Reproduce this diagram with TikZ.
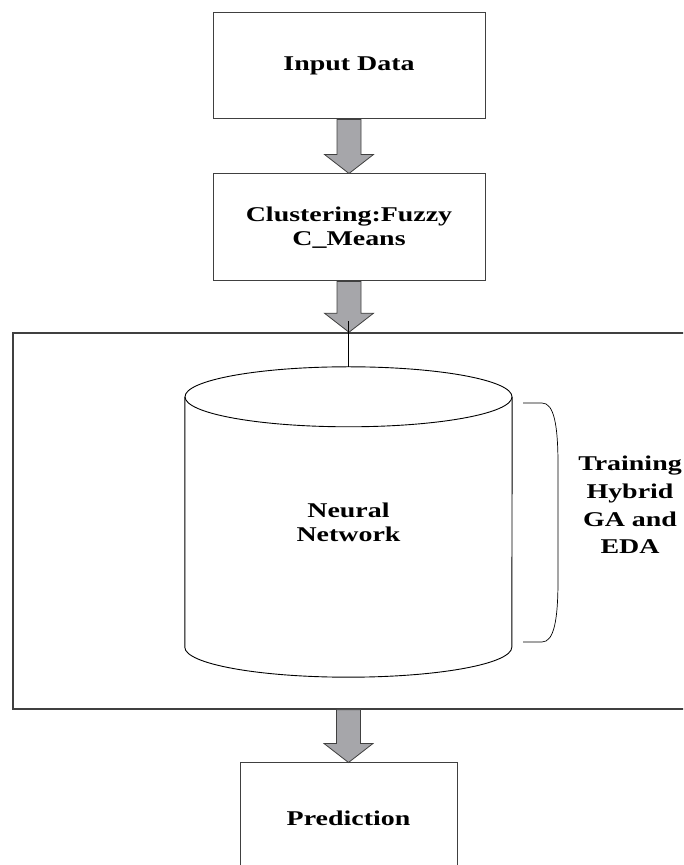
\documentclass[tikz,border=0pt]{standalone}
\usepackage{fontspec}
\setmainfont{Liberation Serif}[FakeStretch=1.33]
\usepackage{tikz}
\usetikzlibrary{positioning,calc}

\definecolor{arrowgray}{RGB}{166,166,170}
\definecolor{linegray}{RGB}{64,64,64}

% block arrow between two points, shaft taken from the first x
\newcommand{\blockarrow}[2]{%
  \draw[fatarrow] let \p1=(#1), \p2=(#2) in
    (\x1-12pt,\y1) -- (\x1-12pt,\y2+19pt) -- (\x1-24.5pt,\y2+19pt) -- (\x1,\y2)
    -- (\x1+24.5pt,\y2+19pt) -- (\x1+12pt,\y2+19pt) -- (\x1+12pt,\y1) -- cycle;}

\begin{document}
\begin{tikzpicture}[x=1pt, y=1pt,
    every node/.style={font=\fontsize{21}{24}\selectfont\bfseries, align=center},
    stepbox/.style={draw=linegray, line width=1pt, minimum width=272pt, minimum height=106pt},
    fatarrow/.style={draw=linegray, line width=0.8pt, fill=arrowgray},
    cyl/.style={draw=black, line width=0.9pt}]

    \useasboundingbox (0,0) rectangle (683,865);
    \clip (0,0) rectangle (683,865);

    \node[stepbox] (input) at (349,799) {Input Data};
    \node[stepbox, minimum height=107pt, below=54pt of input] (clust) {Clustering:Fuzzy\\C\_Means};
    \node[draw=linegray, line width=1.5pt, minimum width=687pt, minimum height=376pt] (train) at (356.5,344) {};
    \node[stepbox, minimum width=217pt, minimum height=110pt] (pred) at (348.5,47) {Prediction};

    % cylinder
    \node[minimum width=327pt, minimum height=310pt] (nn) at (348.5,343) {Neural\\Network};
    \draw[cyl] ([yshift=-30pt]nn.north west) -- ([yshift=30pt]nn.south west)
      arc[start angle=180, end angle=360, x radius=163.5pt, y radius=30pt]
      -- ([yshift=-30pt]nn.north east);
    \draw[cyl] ([yshift=-30pt]nn.north) ellipse[x radius=163.5pt, y radius=30pt];

    \node[font=\fontsize{21}{27.7}\selectfont\bfseries] (algo) at (630,360) {Training\\Hybrid\\GA and\\EDA};
    \draw[cyl, line width=0.7pt] (523,462) -- (542,462) .. controls (554,462) and (558,440) .. (558,400)
      -- (558,285) .. controls (558,245) and (554,223) .. (542,223) -- (523,223);

    \blockarrow{input.south}{clust.north}
    \blockarrow{clust.south}{clust.south |- train.north}
    \blockarrow{pred.north |- train.south}{pred.north}
    \draw[cyl, line width=0.7pt] ([yshift=11pt]nn.north |- train.north) -- (nn.north);
\end{tikzpicture}
\end{document}
